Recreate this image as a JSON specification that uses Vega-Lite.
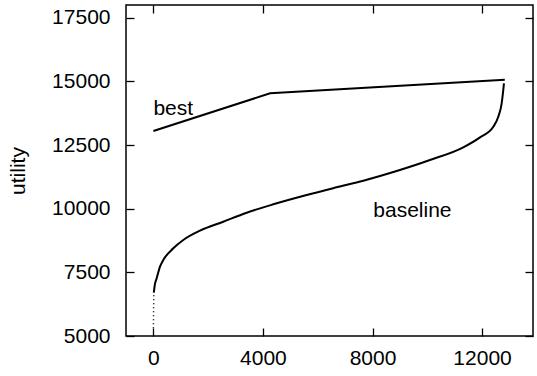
{
  "$schema": "https://vega.github.io/schema/vega-lite/v6.json",
  "width": 407,
  "height": 331,
  "autosize": {"type": "none"},
  "padding": {"left": 126, "top": 5, "right": 4, "bottom": 40},
  "background": "white",
  "config": {
    "font": "Liberation Sans",
    "view": {"stroke": "black", "strokeWidth": 1.5},
    "axis": {
      "domain": false,
      "grid": false,
      "tickSize": 8,
      "tickColor": "black",
      "tickWidth": 1.3,
      "labelFont": "Liberation Sans",
      "labelFontSize": 21,
      "labelColor": "black",
      "titleFont": "Liberation Sans",
      "titleFontSize": 21,
      "titleFontWeight": "normal",
      "titleColor": "black"
    }
  },
  "datasets": {
    "best": [
      {"x": 0, "y": 13050},
      {"x": 4260, "y": 14530},
      {"x": 12830, "y": 15060}
    ],
    "baseline": [
      {"x": 15, "y": 6700},
      {"x": 50, "y": 7000},
      {"x": 120, "y": 7266},
      {"x": 241, "y": 7722},
      {"x": 361, "y": 7985},
      {"x": 727, "y": 8444},
      {"x": 1092, "y": 8770},
      {"x": 1701, "y": 9135},
      {"x": 2552, "y": 9488},
      {"x": 3406, "y": 9842},
      {"x": 4378, "y": 10172},
      {"x": 5597, "y": 10537},
      {"x": 6692, "y": 10839},
      {"x": 7664, "y": 11099},
      {"x": 8883, "y": 11480},
      {"x": 10099, "y": 11912},
      {"x": 11314, "y": 12411},
      {"x": 11925, "y": 12803},
      {"x": 12410, "y": 13219},
      {"x": 12592, "y": 13612},
      {"x": 12716, "y": 14138},
      {"x": 12774, "y": 14660},
      {"x": 12800, "y": 14923}
    ],
    "sparse": [
      {"x": 0, "y": 5300},
      {"x": 15, "y": 6700}
    ],
    "labels": [
      {"x": 0, "y": 13680, "text": "best"},
      {"x": 8028, "y": 9690, "text": "baseline"}
    ]
  },
  "layer": [
    {
      "data": {"name": "best"},
      "mark": {"type": "line", "color": "black", "strokeWidth": 2},
      "encoding": {
        "x": {
          "field": "x", "type": "quantitative",
          "scale": {"domain": [-1000, 13860], "nice": false, "zero": false},
          "axis": {"orient": "bottom", "values": [0, 4000, 8000, 12000], "format": "d", "title": null, "ticks": false, "labelPadding": 11}
        },
        "y": {
          "field": "y", "type": "quantitative",
          "scale": {"domain": [5000, 18000], "nice": false, "zero": false},
          "axis": {"orient": "left", "values": [5000, 7500, 10000, 12500, 15000, 17500], "format": "d", "title": "utility", "ticks": false, "labelPadding": 16, "titlePadding": 23}
        }
      }
    },
    {
      "data": {"name": "baseline"},
      "mark": {"type": "line", "color": "black", "strokeWidth": 2, "interpolate": "monotone"},
      "encoding": {
        "x": {"field": "x", "type": "quantitative", "axis": null},
        "y": {"field": "y", "type": "quantitative", "axis": null}
      }
    },
    {
      "data": {"name": "sparse"},
      "mark": {"type": "line", "color": "black", "strokeWidth": 1.5, "strokeDash": [1, 3]},
      "encoding": {
        "x": {"field": "x", "type": "quantitative", "axis": null},
        "y": {"field": "y", "type": "quantitative", "axis": null}
      }
    },
    {
      "data": {"name": "labels"},
      "mark": {"type": "text", "align": "left", "baseline": "alphabetic", "fontSize": 21, "font": "Liberation Sans", "color": "black"},
      "encoding": {
        "x": {"field": "x", "type": "quantitative", "axis": null},
        "y": {"field": "y", "type": "quantitative", "axis": null},
        "text": {"field": "text"}
      }
    },
    {
      "data": {"name": "best"},
      "mark": {"type": "point", "opacity": 0},
      "encoding": {
        "x": {"field": "x", "type": "quantitative", "axis": {"orient": "top", "offset": -331, "values": [0, 4000, 8000, 12000], "labels": false, "title": null}},
        "y": {"field": "y", "type": "quantitative", "axis": {"orient": "right", "offset": -407, "values": [5000, 7500, 10000, 12500, 15000, 17500], "labels": false, "title": null}}
      }
    },
    {
      "data": {"name": "best"},
      "mark": {"type": "point", "opacity": 0},
      "encoding": {
        "x": {"field": "x", "type": "quantitative", "axis": {"orient": "bottom", "offset": -331, "values": [0, 4000, 8000, 12000], "labels": false, "title": null}},
        "y": {"field": "y", "type": "quantitative", "axis": {"orient": "left", "offset": -407, "values": [5000, 7500, 10000, 12500, 15000, 17500], "labels": false, "title": null}}
      }
    }
  ],
  "resolve": {"axis": {"x": "independent", "y": "independent"}}
}
